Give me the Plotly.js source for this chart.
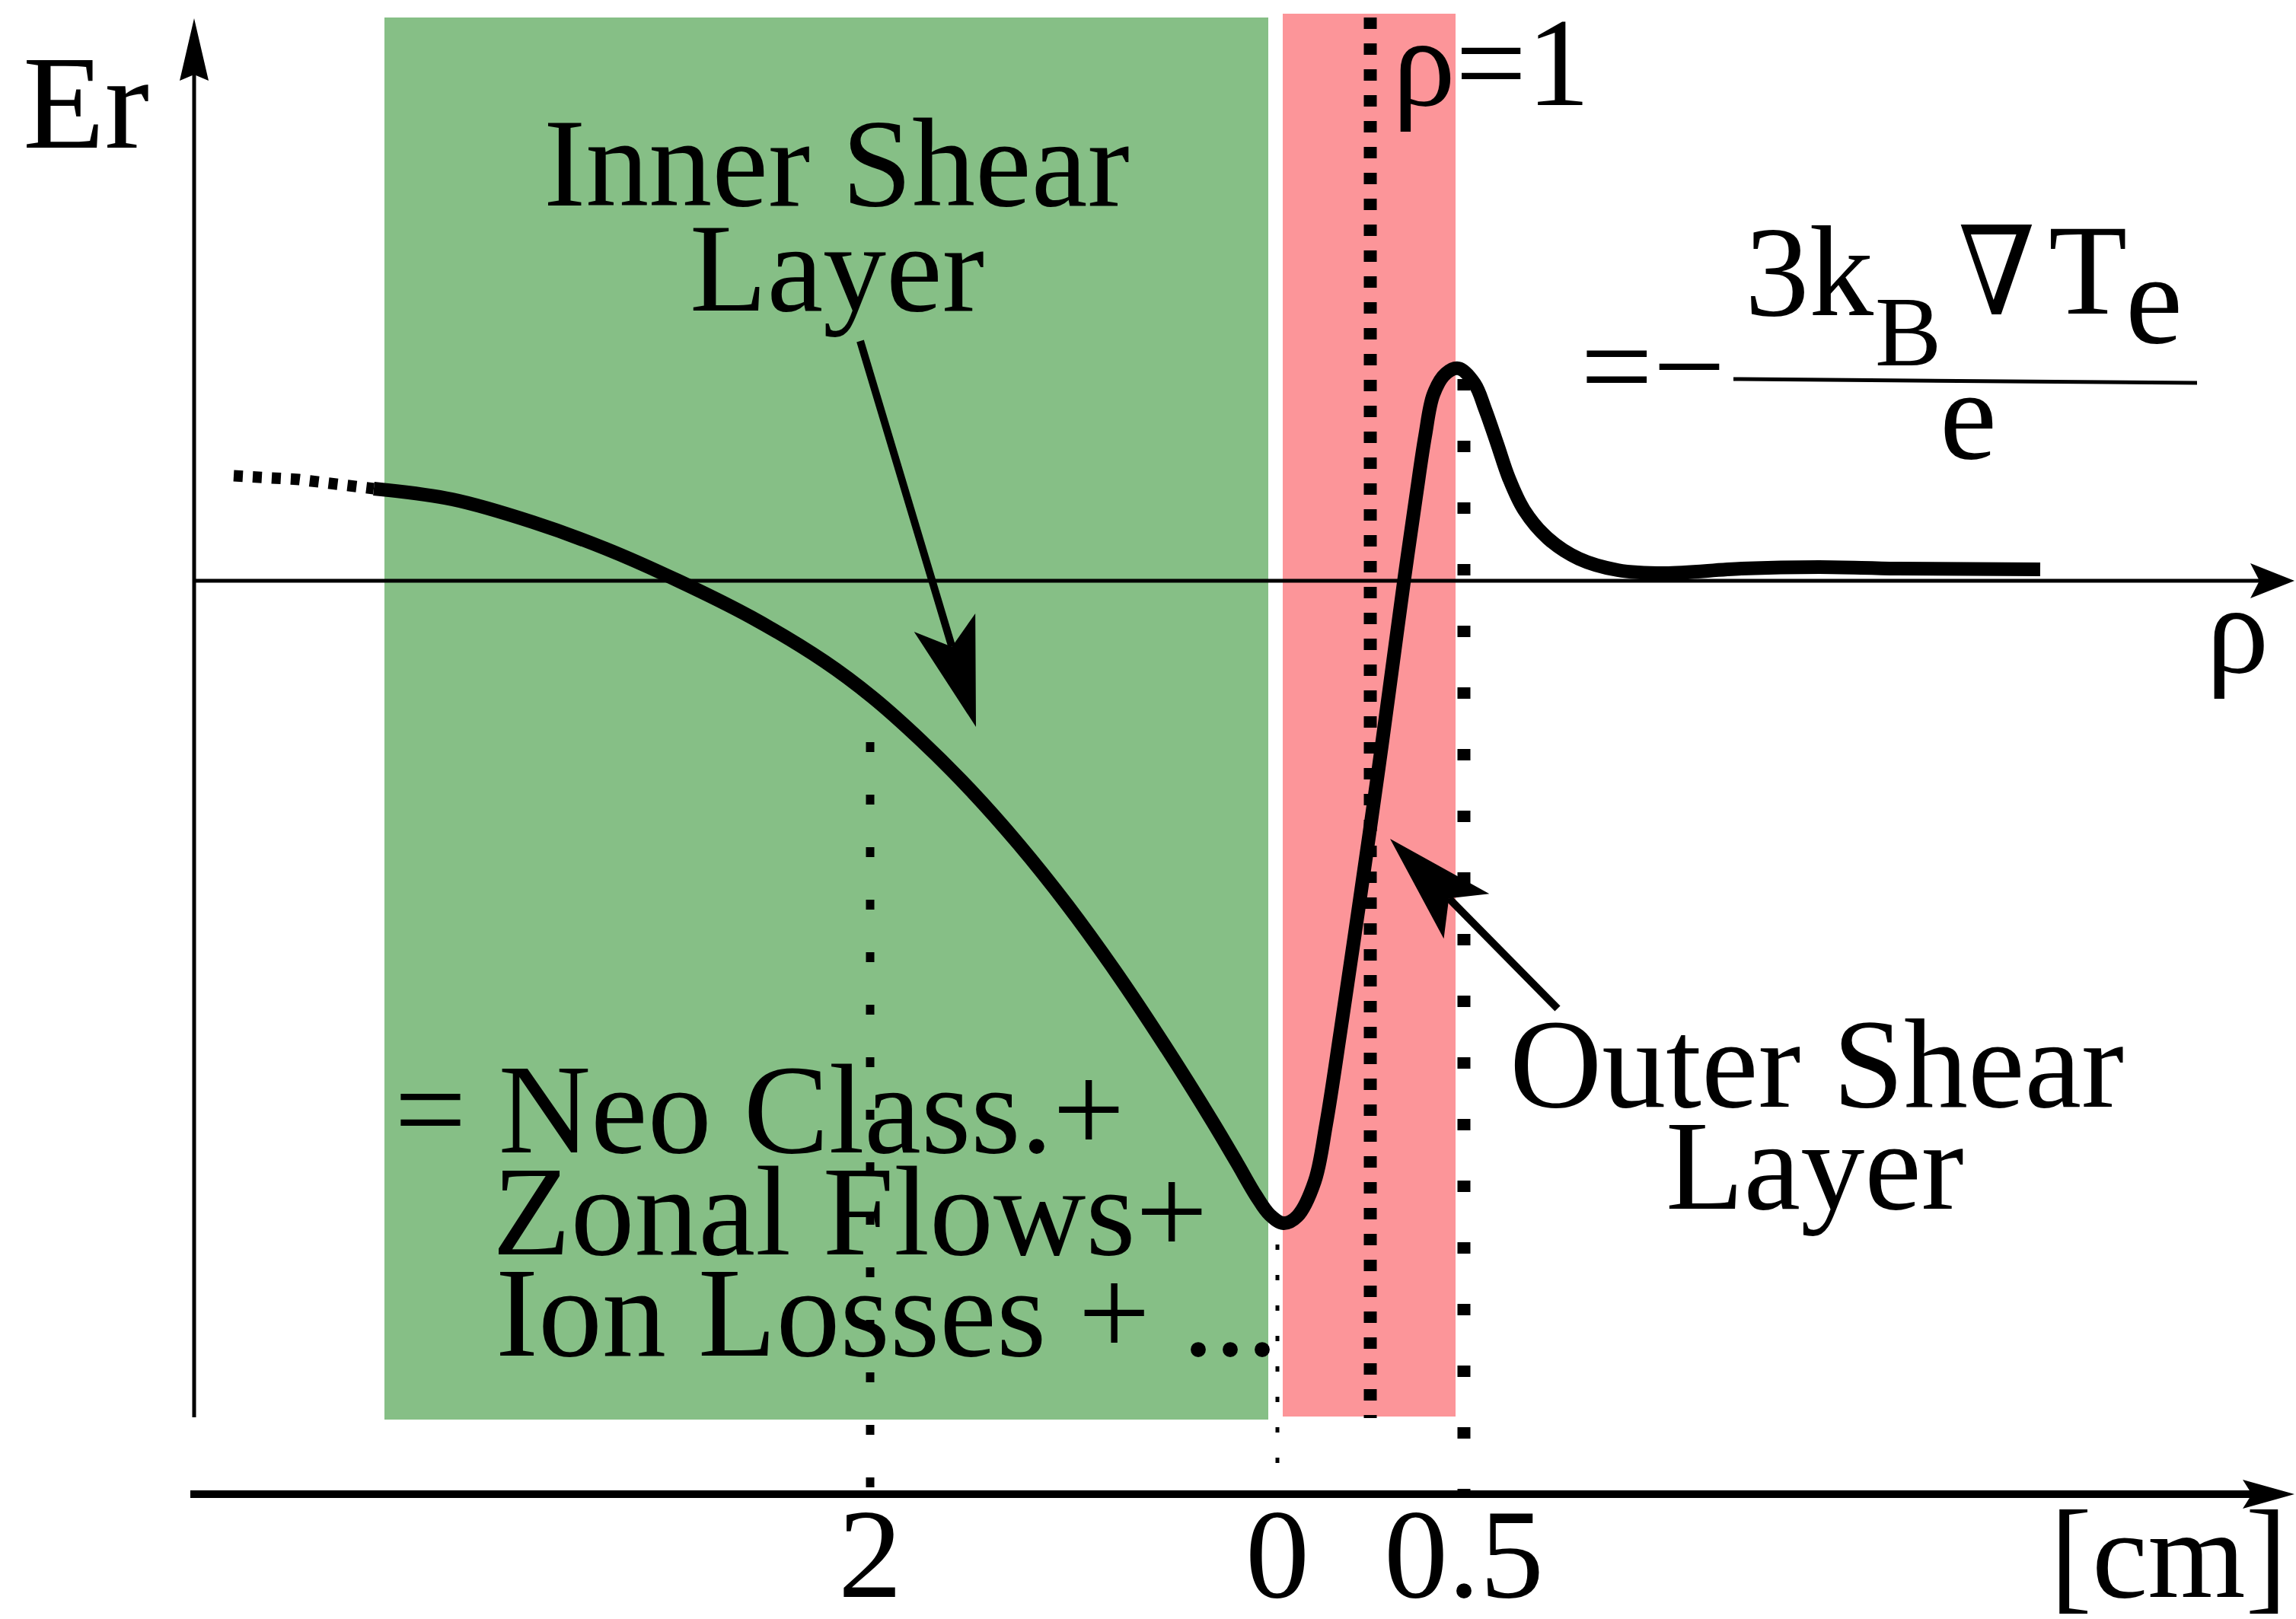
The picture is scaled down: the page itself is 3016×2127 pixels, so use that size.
<!DOCTYPE html>
<html>
<head>
<meta charset="utf-8">
<script src="https://cdn.plot.ly/plotly-3.0.1.min.js"></script>
<style>html,body{margin:0;padding:0;background:#fff;}</style>
</head>
<body>
<div id="chart" style="width:3016px;height:2127px;"></div>
<script>
// Schematic radial electric field Er across the plasma edge.
// Horizontal: distance along rho measured from the Er axis; vertical: Er (0 on the rho axis).

// ---- data ----
// extrapolated core part of the profile (dotted)
const coreX  = [52, 138, 236];
const coreEr = [138, 133, 121];

// Er profile through the inner and outer shear layers
const profileX  = [236, 339, 445, 541, 636, 732, 828, 891, 955, 1019, 1083, 1147, 1210, 1274, 1338, 1370,
                   1395, 1413, 1431, 1449, 1472, 1487, 1506, 1525, 1544, 1560, 1575, 1590, 1605, 1617,
                   1628, 1644, 1661, 1682, 1696, 1712, 1727, 1747, 1778, 1819, 1870, 1931, 2033, 2135,
                   2237, 2425];
const profileEr = [121, 107, 77, 42, 0, -48, -106, -153, -210, -274, -346, -426, -513, -609, -711, -765,
                   -808, -833, -844, -835, -789, -714, -591, -462, -331, -217, -106, 5, 110, 190,
                   245, 272, 279, 259, 225, 179, 135, 93, 56, 29, 14, 10, 16, 18,
                   16, 15];

// shear layer bands
const layerNames  = ['Inner Shear Layer', 'Outer Shear Layer'];
const layerLeft   = [250, 1430];
const layerRight  = [1411, 1657];
const layerTop    = [740, 745];
const layerBottom = [-1102, -1098];

// radial distance scale [cm]
const cmTickLabels = ['2', '0', '0.5'];
const cmTickPos    = [888, 1423, 1668];
const cmGuideTop   = [-212, -872, 265];

// separatrix (rho = 1)
const separatrixPos = 1545;

// ---- geometry of the drawing ----
const erAxisBottom = -1099, erAxisTip = 739;
const rhoAxisEnd = 2759;
const cmAxisY = -1200, cmAxisStart = -5;
const bandTop = 745;

const black = '#000000';
const serif = 'Liberation Serif, Times New Roman, serif';

function headPath(tip, tail, len, half, notch) {
  const dx = tail[0] - tip[0], dy = tail[1] - tip[1];
  const L = Math.hypot(dx, dy), ux = dx / L, uy = dy / L, px = -uy, py = ux;
  const bx = tip[0] + ux * len, by = tip[1] + uy * len;
  const nx = tip[0] + ux * notch, ny = tip[1] + uy * notch;
  return 'M' + tip[0] + ',' + tip[1] +
         ' L' + (bx + px * half) + ',' + (by + py * half) +
         ' L' + nx + ',' + ny +
         ' L' + (bx - px * half) + ',' + (by - py * half) + ' Z';
}
function headShape(tip, tail, len, half, notch) {
  return {type: 'path', xref: 'x', yref: 'y', path: headPath(tip, tail, len, half, notch),
          fillcolor: black, line: {width: 0}, layer: 'above'};
}
function notchPoint(tip, tail, notch) {
  const dx = tail[0] - tip[0], dy = tail[1] - tip[1], L = Math.hypot(dx, dy);
  return [tip[0] + dx / L * notch, tip[1] + dy / L * notch];
}
function seg(x, y, width, dash) {
  return {x: x, y: y, mode: 'lines', hoverinfo: 'skip', showlegend: false,
          line: {color: black, width: width, dash: dash || 'solid'}};
}

// pointers from the labels to the profile
const innerTail = [875, 315], innerTip = [1027, -192];
const outerTail = [1791, -562], outerTip = [1571, -339];
const innerNotch = notchPoint(innerTip, innerTail, 110);
const outerNotch = notchPoint(outerTip, outerTail, 110);

const traces = [];
// axes
traces.push(seg([0, 0], [erAxisBottom, erAxisTip - 60], 5));
traces.push(seg([0, rhoAxisEnd - 40], [0, 0], 5));
traces.push(seg([cmAxisStart, rhoAxisEnd - 50], [cmAxisY, cmAxisY], 10));
// guides at the cm ticks
traces.push(seg([cmTickPos[0], cmTickPos[0]], [cmGuideTop[0], cmAxisY + 8], 11, '13px,56px'));
traces.push(seg([cmTickPos[1], cmTickPos[1]], [cmGuideTop[1], cmAxisY + 30], 5, '7px,33px'));
traces.push(seg([cmTickPos[2], cmTickPos[2]], [cmGuideTop[2], cmAxisY], 17, '15px,66px'));
// separatrix
traces.push(seg([separatrixPos, separatrixPos], [bandTop - 5, layerBottom[1] - 2], 17, '15px,19px'));
// profile
traces.push({x: coreX, y: coreEr, mode: 'lines', hoverinfo: 'skip', showlegend: false,
             line: {color: black, width: 15, dash: '12px,13px'}});
traces.push({x: profileX, y: profileEr, mode: 'lines', hoverinfo: 'skip', showlegend: false,
             line: {color: black, width: 18, shape: 'spline', smoothing: 1, simplify: false}});
// pointer shafts
traces.push(seg([innerTail[0], innerNotch[0]], [innerTail[1], innerNotch[1]], 10));
traces.push(seg([outerTail[0], outerNotch[0]], [outerTail[1], outerNotch[1]], 10));

const bandColors = ['#86bf86', '#fc9599'];
const shapes = layerNames.map((n, i) => ({
  type: 'rect', xref: 'x', yref: 'y', layer: 'below',
  x0: layerLeft[i], x1: layerRight[i], y0: layerBottom[i], y1: layerTop[i],
  fillcolor: bandColors[i], line: {width: 0}
}));
shapes.push(headShape([0, erAxisTip], [0, erAxisBottom], 82, 19, 74));
shapes.push(headShape([rhoAxisEnd, 0], [0, 0], 58, 23, 46));
shapes.push(headShape([rhoAxisEnd, cmAxisY], [0, cmAxisY], 68, 19, 56));
shapes.push(headShape(innerTip, innerTail, 143, 42, 110));
shapes.push(headShape(outerTip, outerTail, 143, 42, 110));
// fraction bar of -3 kB grad Te / e
shapes.push({type: 'line', xref: 'x', yref: 'y', x0: 2022, y0: 265, x1: 2631, y1: 260,
             line: {color: black, width: 5}, layer: 'above'});

// text placed by its baseline
function note(text, x, baseline, size, anchor, family) {
  return {text: text, x: x, y: baseline + 0.3375 * size, xref: 'x', yref: 'y',
          xanchor: anchor || 'left', yanchor: 'middle', showarrow: false, borderpad: 0,
          font: {family: family || serif, size: size, color: black}};
}
const annotations = [
  note('Er', -226, 569, 176),
  note('Inner Shear', 844, 493, 166, 'center'),
  note('Layer', 844, 355, 166, 'center'),
  note('ρ=1', 1573, 625, 166),
  note('=−', 1820, 225, 169),
  note('3k', 2036, 349, 169),
  note('B', 2207, 283, 131),
  note('∇', 2368, 351, 162, 'center', 'DejaVu Serif Condensed, DejaVu Serif, serif'),
  note('T', 2435, 351, 169),
  note('e', 2536, 313, 169),
  note('e', 2330, 161, 169, 'center'),
  note('ρ', 2684, -120, 165, 'center'),
  note('= Neo Class.+', 262, -751, 168),
  note('Zonal Flows+', 391, -885, 168),
  note('Ion Losses + ...', 395, -1018, 168),
  note('Outer Shear', 2131, -691, 168, 'center'),
  note('Layer', 2129, -825, 168, 'center'),
  note('[cm]', 2593, -1335, 165, 'center')
];
cmTickLabels.forEach((t, i) => annotations.push(note(t, cmTickPos[i], -1335, 168, 'center')));

const layout = {
  width: 3016, height: 2127,
  margin: {l: 0, r: 0, t: 0, b: 0, pad: 0},
  paper_bgcolor: '#ffffff', plot_bgcolor: '#ffffff',
  showlegend: false, hovermode: false,
  xaxis: {range: [-255, 2761], visible: false, fixedrange: true},
  yaxis: {range: [-1364, 763], visible: false, fixedrange: true},
  shapes: shapes,
  annotations: annotations
};

Plotly.newPlot('chart', traces, layout, {staticPlot: true, displayModeBar: false});
</script>
</body>
</html>
